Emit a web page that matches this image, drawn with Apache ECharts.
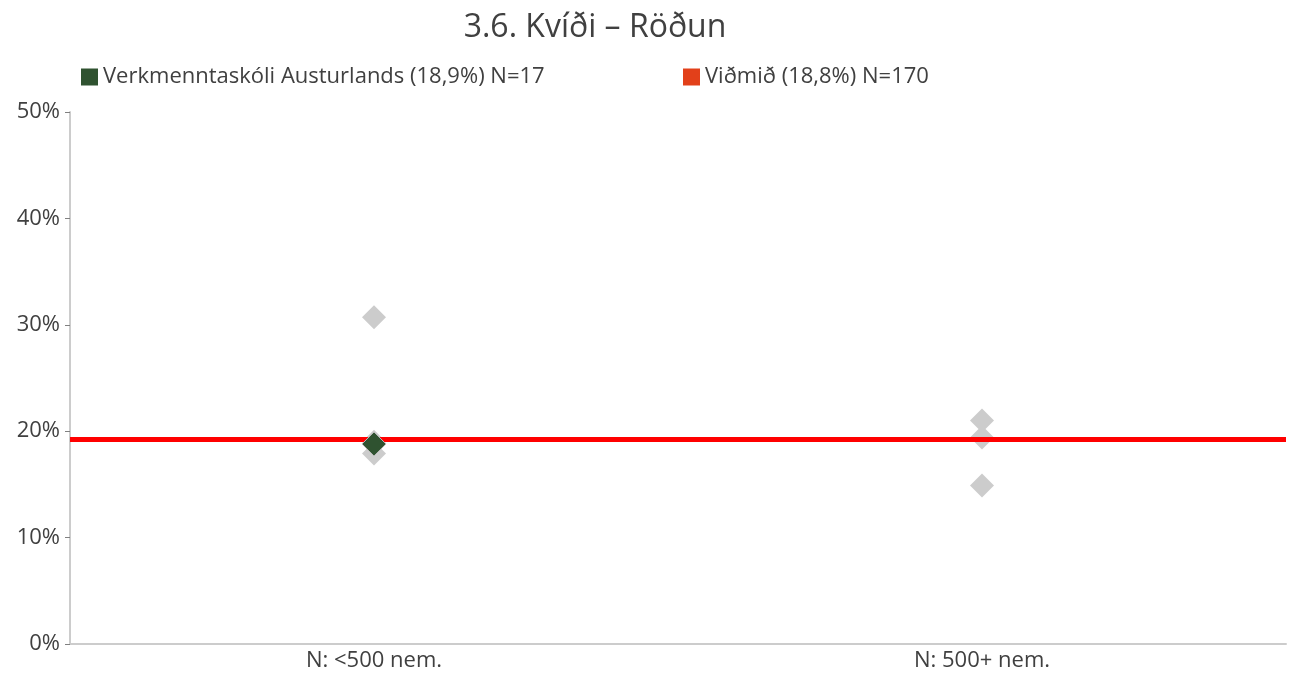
<!DOCTYPE html>
<html><head><meta charset="utf-8">
<script src="https://cdn.jsdelivr.net/npm/echarts@6/dist/echarts.min.js"></script>
<style>html,body{margin:0;padding:0;background:#fff}#c{width:1295px;height:675px}</style>
</head><body><div id="c"></div>
<script>
const title = '3.6. Kvíði – Röðun';
const categories = ['N: <500 nem.', 'N: 500+ nem.'];
const yTicks = [0, 10, 20, 30, 40, 50];
const otherSchools0 = [30.7, 19.0, 17.9];
const otherSchools1 = [21.0, 19.4, 14.9];
const schoolName = 'Verkmenntaskóli Austurlands (18,9%) N=17';
const schoolCategory = 0;
const schoolValue = 18.8;
const benchName = 'Viðmið (18,8%) N=170';
const benchValue = 19.2;

const grayData = otherSchools0.map(v => [categories[0], v]).concat(otherSchools1.map(v => [categories[1], v]));
const font = '"Open Sans", Lato, sans-serif';

const chart = echarts.init(document.getElementById('c'));
chart.setOption({
  animation: false,
  title: { text: title, left: 590, top: 7, textAlign: 'center',
    textStyle: { fontFamily: font, fontSize: 32, fontWeight: 'normal', color: '#404040' } },
  legend: [
    { left: 76, top: 61, itemWidth: 17, itemHeight: 17, itemGap: 8,
      textStyle: { fontFamily: font, fontSize: 22, color: '#404040' },
      data: [{ name: schoolName, icon: 'rect', itemStyle: { color: '#2f5230', borderWidth: 0 } }] },
    { left: 678, top: 61, itemWidth: 17, itemHeight: 17, itemGap: 8,
      textStyle: { fontFamily: font, fontSize: 22, color: '#404040' },
      data: [{ name: benchName, icon: 'rect', itemStyle: { color: '#e2401a', borderWidth: 0 } }] }
  ],
  grid: { left: 70, right: 9, top: 112, bottom: 31 },
  xAxis: {
    type: 'category', data: categories, boundaryGap: true,
    axisLine: { lineStyle: { color: '#cccccc', width: 2 } },
    axisTick: { show: false },
    axisLabel: { fontFamily: font, fontSize: 22, color: '#404040', margin: 6 }
  },
  yAxis: {
    type: 'value', min: 0, max: 50, interval: 10,
    axisLine: { show: true, lineStyle: { color: '#cccccc', width: 2 } },
    axisTick: { show: true, length: 5, lineStyle: { color: '#808080' } },
    splitLine: { show: false },
    axisLabel: { fontFamily: font, fontSize: 22, color: '#404040', margin: 10,
      formatter: v => v + '%' }
  },
  series: [
    { name: 'others', type: 'scatter', symbol: 'diamond', symbolSize: 24,
      itemStyle: { color: '#cccccc', opacity: 1 }, data: grayData, z: 2 },
    { name: benchName, type: 'line', data: [], itemStyle: { color: '#e2401a' },
      markLine: { symbol: 'none', silent: true, label: { show: false },
        lineStyle: { color: '#ff0000', width: 5, type: 'solid' },
        data: [{ yAxis: benchValue }] }, z: 3 },
    { name: schoolName, type: 'scatter', symbol: 'diamond', symbolSize: 24,
      itemStyle: { color: '#2f5230', opacity: 1, borderColor: '#bbbbbb', borderWidth: 1 },
      data: [[categories[schoolCategory], schoolValue]], z: 5 }
  ]
});
</script></body></html>
